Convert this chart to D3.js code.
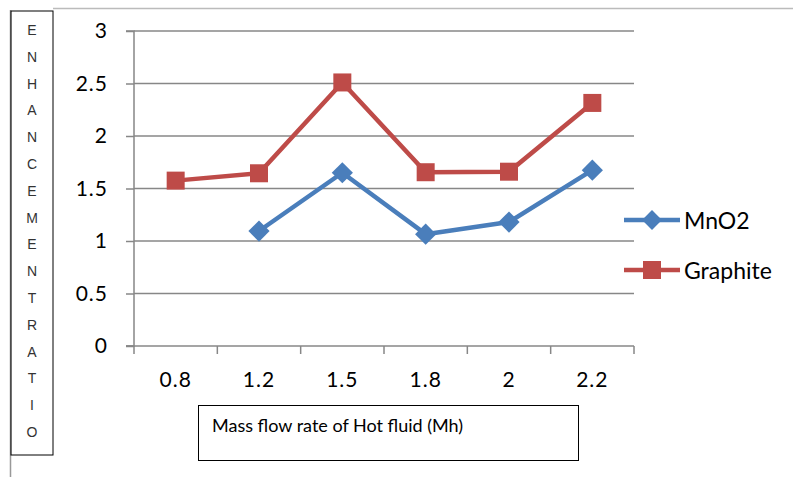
<!DOCTYPE html>
<html><head><meta charset="utf-8">
<script src="https://cdn.jsdelivr.net/npm/d3@7/dist/d3.min.js"></script>
<style>html,body{margin:0;padding:0;background:#fff}svg{display:block}</style>
</head><body>
<svg id="c" width="793" height="477"></svg>
<script>
const categories = ["0.8","1.2","1.5","1.8","2","2.2"];
const mno2 = [null, 1.095, 1.65, 1.065, 1.18, 1.675];
const graphite = [1.575, 1.645, 2.51, 1.655, 1.66, 2.315];
const yTicks = [0, 0.5, 1, 1.5, 2, 2.5, 3];
const yTickLabels = ["0","0.5","1","1.5","2","2.5","3"];
const seriesNames = ["MnO2","Graphite"];
const colors = ["#4A7EBB","#BE4B48"];
const yTitle = "ENHANCEMENTRATIO";
const xTitle = "Mass flow rate of Hot fluid (Mh)";

const svg = d3.select("#c");
const font = "Lato, 'Open Sans', sans-serif";
const L=134, R=634, T=31, B=346;
const x = d3.scaleBand().domain(categories).range([L,R]);
const y = d3.scaleLinear().domain([0,3]).range([B,T]);
const grid="#878787";

// outer decorative lines
svg.append("line").attr("x1",10.5).attr("x2",10.5).attr("y1",10).attr("y2",477).attr("stroke","#999").attr("stroke-width",1.5);
svg.append("line").attr("x1",53).attr("x2",793).attr("y1",8.5).attr("y2",8.5).attr("stroke","#bbb").attr("stroke-width",1.5);
// y title box
svg.append("rect").attr("x",11).attr("y",11).attr("width",42).attr("height",444).attr("fill","none").attr("stroke","#000").attr("stroke-width",1);
yTitle.split("").forEach((ch,i)=>{
  svg.append("text").attr("x",32).attr("y",30+i*26.8).attr("text-anchor","middle").attr("dominant-baseline","central")
    .attr("font-family","'Liberation Sans', Arial, sans-serif").attr("font-size",14).attr("fill","#333").text(ch);
});

// gridlines
svg.append("g").selectAll("line").data(yTicks.slice(1)).join("line")
  .attr("x1",L).attr("x2",R).attr("y1",d=>y(d)).attr("y2",d=>y(d)).attr("stroke",grid).attr("stroke-width",1.5);

// y axis
const ya = svg.append("g").attr("transform",`translate(${L},0)`)
  .call(d3.axisLeft(y).tickValues(yTicks).tickFormat((d,i)=>yTickLabels[i]).tickSize(8).tickPadding(18));
ya.select(".domain").attr("stroke",grid).attr("stroke-width",1.5).attr("d",`M-8,${T}H0V${B}H-8`);
ya.selectAll(".tick line").attr("stroke",grid).attr("stroke-width",1.5);
ya.selectAll("text").attr("font-family",font).attr("font-size",21).attr("letter-spacing",1).attr("fill","#000");

// x axis
const xa = svg.append("g").attr("transform",`translate(0,${B})`)
  .call(d3.axisBottom(x).tickSize(0).tickPadding(26));
xa.select(".domain").remove();
xa.append("line").attr("x1",L-8).attr("x2",R).attr("y1",0).attr("y2",0).attr("stroke",grid).attr("stroke-width",1.5);
const bounds = categories.map(c=>x(c)).concat([R]);
xa.selectAll(".bt").data(bounds).join("line").attr("class","bt")
  .attr("x1",d=>d).attr("x2",d=>d).attr("y1",0).attr("y2",8).attr("stroke",grid).attr("stroke-width",1.5);
xa.selectAll("text").attr("font-family",font).attr("font-size",21).attr("letter-spacing",1).attr("fill","#000");

// x title box
svg.append("rect").attr("x",198.5).attr("y",405.5).attr("width",380).attr("height",55).attr("fill","#fff").attr("stroke","#000").attr("stroke-width",1);
svg.append("text").attr("x",212).attr("y",432).attr("font-family",font).attr("font-size",18).attr("fill","#000").text(xTitle);

const cx = c=>x(c)+x.bandwidth()/2;
const all=[mno2,graphite];
const line = d3.line().defined(d=>d.v!=null).x(d=>cx(d.c)).y(d=>y(d.v));
all.forEach((s,k)=>{
  const pts = categories.map((c,i)=>({c,v:s[i]}));
  svg.append("path").datum(pts).attr("d",line).attr("fill","none").attr("stroke",colors[k]).attr("stroke-width",4.5).attr("stroke-linejoin","round");
  const g = svg.append("g");
  pts.filter(d=>d.v!=null).forEach(d=>{
    if(k===0){
      g.append("rect").attr("x",-7.5).attr("y",-7.5).attr("width",15).attr("height",15).attr("fill",colors[k])
        .attr("transform",`translate(${cx(d.c)},${y(d.v)}) rotate(45)`);
    } else {
      g.append("rect").attr("x",cx(d.c)-9).attr("y",y(d.v)-9).attr("width",18).attr("height",18).attr("fill",colors[k]);
    }
  });
});

// legend
seriesNames.forEach((n,k)=>{
  const ly = 220 + k*50;
  svg.append("line").attr("x1",624).attr("x2",680).attr("y1",ly).attr("y2",ly).attr("stroke",colors[k]).attr("stroke-width",4.5);
  if(k===0){
    svg.append("rect").attr("x",-7).attr("y",-7).attr("width",14).attr("height",14).attr("fill",colors[k])
      .attr("transform",`translate(652,${ly}) rotate(45)`);
  } else {
    svg.append("rect").attr("x",643).attr("y",ly-9).attr("width",18).attr("height",18).attr("fill",colors[k]);
  }
  svg.append("text").attr("x",684).attr("y",ly).attr("dominant-baseline","central").attr("font-family",font).attr("font-size",23).attr("fill","#000").text(n);
});
</script>
</body></html>
